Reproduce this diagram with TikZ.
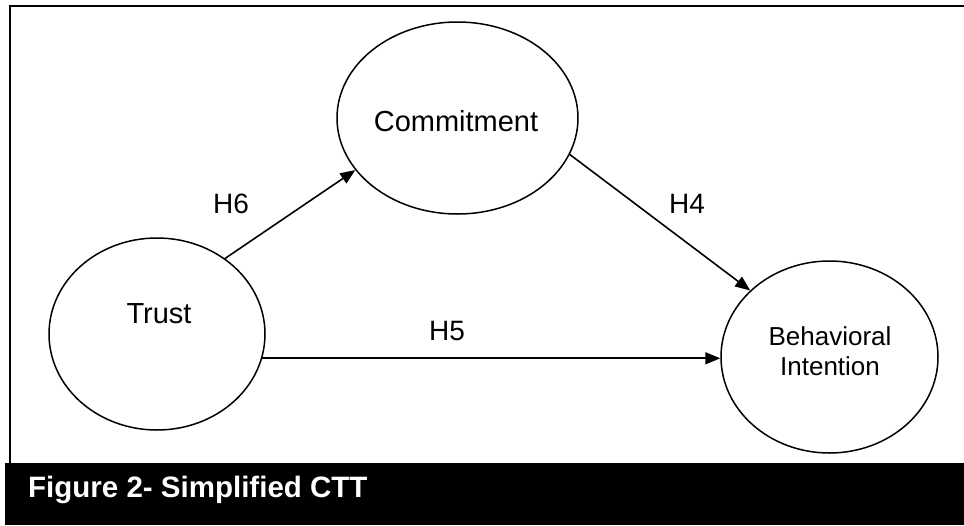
\documentclass[tikz,border=0pt]{standalone}
\usepackage{fontspec}
\setmainfont{Liberation Sans}
\usetikzlibrary{shapes.geometric,arrows.meta}
\begin{document}
\begin{tikzpicture}[x=1pt,y=-1pt,
  construct/.style={draw=black,ellipse,line width=1.5pt,inner sep=0pt,fill=white},
  lbl/.style={font=\fontsize{28}{30}\selectfont,inner sep=0pt},
  link/.style={line width=1.6pt,-{Triangle[length=15pt,width=12pt]}},
  frameline/.style={line width=2pt}]
\useasboundingbox (0,0) rectangle (964,525);
\fill[white] (0,0) rectangle (964,525);
% frame
\coordinate (fTL) at (9.5,6);
\coordinate (fTR) at (966,6);
\coordinate (fBL) at (9.5,464);
\draw[frameline] (fTR) -- (fTL) -- (fBL);
% caption bar
\node[fill=black,minimum width=964pt,minimum height=62pt,inner sep=0pt,anchor=north west] (bar) at (5,463) {};
\node[anchor=base west,text=white,font=\bfseries\fontsize{29.5}{32}\selectfont,inner sep=0pt] (cap) at (28,497) {Figure 2- Simplified CTT};
% constructs
\node[construct,minimum width=241pt,minimum height=192pt] (commit) at (457.5,118) {};
\node[construct,minimum width=216pt,minimum height=192pt] (trust) at (157,334) {};
\node[construct,minimum width=217pt,minimum height=192pt] (bi) at (829.5,357) {};
\node[font=\fontsize{29}{31}\selectfont,inner sep=0pt] (tcommit) at (456,121) {Commitment};
\node[font=\fontsize{29}{31}\selectfont,inner sep=0pt] (ttrust) at (159,314) {Trust};
\node[font=\fontsize{26}{30}\selectfont,inner sep=0pt,align=center] (tbi) at (830,351) {Behavioral\\Intention};
% links
\draw[link] (trust.48) -- (commit.207);
\draw[link] (commit.342) -- (bi.140);
\draw[link] (trust.-13) -- (trust.-13 -| bi.west);
% labels
\node[lbl] (h6) at (231,204) {H6};
\node[lbl] (h4) at (687,204) {H4};
\node[lbl] (h5) at (447,331) {H5};
\end{tikzpicture}
\end{document}
